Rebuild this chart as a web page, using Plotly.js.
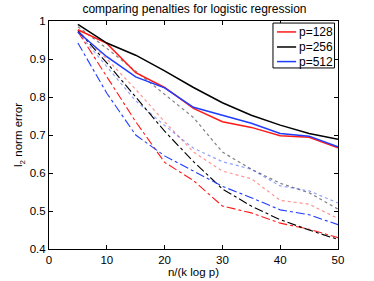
<!DOCTYPE html>
<html><head><meta charset="utf-8">
<script src="https://cdn.plot.ly/plotly-3.0.1.min.js"></script>
<style>html,body{margin:0;padding:0;background:#fff}#c{width:374px;height:281px}</style>
</head><body><div id="c"></div>
<script>
const ratio = [5, 10, 15, 20, 25, 30, 35, 40, 45, 50];
const seriesNames = ["p=128", "p=256", "p=512"];
// solid lines
const solid128 = [0.977, 0.941, 0.864, 0.825, 0.770, 0.735, 0.720, 0.698, 0.694, 0.666];
const solid256 = [0.991, 0.942, 0.910, 0.869, 0.825, 0.785, 0.752, 0.726, 0.704, 0.689];
const solid512 = [0.971, 0.906, 0.853, 0.824, 0.773, 0.752, 0.731, 0.704, 0.697, 0.669];
// dash-dot lines
const dashdot128 = [0.972, 0.855, 0.735, 0.628, 0.580, 0.513, 0.495, 0.468, 0.452, 0.430];
const dashdot256 = [0.975, 0.890, 0.800, 0.710, 0.630, 0.558, 0.513, 0.477, 0.450, 0.425];
const dashdot512 = [0.942, 0.810, 0.700, 0.645, 0.605, 0.565, 0.535, 0.503, 0.490, 0.464];
// dotted lines
const dotted128 = [0.975, 0.900, 0.820, 0.735, 0.655, 0.605, 0.585, 0.528, 0.518, 0.480];
const dotted256 = [0.985, 0.928, 0.868, 0.807, 0.746, 0.655, 0.610, 0.573, 0.548, 0.505];
const dotted512 = [0.970, 0.880, 0.790, 0.725, 0.665, 0.630, 0.610, 0.566, 0.553, 0.521];

const cols = ["#ff1a1a", "#000000", "#1f3cff"];
const dotCols = ["rgba(255,60,60,0.55)", "rgba(0,0,0,0.5)", "rgba(40,70,255,0.5)"];
const solids = [solid128, solid256, solid512];
const dashdots = [dashdot128, dashdot256, dashdot512];
const dotteds = [dotted128, dotted256, dotted512];

const traces = [];
for (let i = 0; i < 3; i++) {
  traces.push({x: ratio, y: dotteds[i], mode: "lines", showlegend: false,
    line: {color: dotCols[i], width: 1.2, dash: "dot"}});
}
for (let i = 0; i < 3; i++) {
  traces.push({x: ratio, y: dashdots[i], mode: "lines", showlegend: false,
    line: {color: cols[i], width: 1.1, dash: "dashdot"}});
}
for (let i = 0; i < 3; i++) {
  traces.push({x: ratio, y: solids[i], mode: "lines", name: seriesNames[i], showlegend: false,
    line: {color: cols[i], width: 1.5}});
}

const font = "Liberation Sans, Arial, sans-serif";

// legend drawn in paper coordinates
const legendRows = [0.952, 0.886, 0.822];
const shapes = [{type: "rect", xref: "paper", yref: "paper", x0: 0.775, x1: 0.988, y0: 0.794, y1: 0.991,
  line: {color: "#000", width: 1}, fillcolor: "#fff", layer: "above"}];
const annotations = [];
for (let i = 0; i < 3; i++) {
  shapes.push({type: "line", xref: "paper", yref: "paper", x0: 0.789, x1: 0.855, y0: legendRows[i], y1: legendRows[i],
    line: {color: cols[i], width: 1.5}, layer: "above"});
  annotations.push({xref: "paper", yref: "paper", x: 0.858, y: legendRows[i], xanchor: "left", yanchor: "middle",
    text: seriesNames[i], showarrow: false, font: {size: 12, family: font, color: "#000"}});
}

const layout = {
  width: 374, height: 281,
  margin: {l: 49, r: 36, t: 21, b: 32},
  paper_bgcolor: "#fff", plot_bgcolor: "#fff",
  font: {family: font, size: 11.5, color: "#000"},
  title: {text: "comparing penalties for logistic regression", font: {size: 12, family: font}, x: 0.52, xanchor: "center", y: 0.985, yanchor: "top"},
  xaxis: {range: [0, 50], tickvals: [0, 10, 20, 30, 40, 50], ticks: "inside", ticklen: 4, tickcolor: "#000",
    showgrid: false, zeroline: false, showline: true, linecolor: "#000", linewidth: 1, mirror: "ticks",
    title: {text: "n/(k log p)", font: {size: 11.5}, standoff: 1}, tickfont: {size: 11.5}},
  yaxis: {range: [0.4, 1], tickvals: [0.4, 0.5, 0.6, 0.7, 0.8, 0.9, 1], ticktext: ["0.4","0.5","0.6","0.7","0.8","0.9","1"],
    ticks: "inside", ticklen: 4, tickcolor: "#000",
    showgrid: false, zeroline: false, showline: true, linecolor: "#000", linewidth: 1, mirror: "ticks",
    title: {text: "l<sub>2</sub> norm error", font: {size: 11.5}, standoff: 4}, tickfont: {size: 11.5}},
  shapes: shapes,
  annotations: annotations,
  showlegend: false
};
Plotly.newPlot("c", traces, layout, {displayModeBar: false, staticPlot: true});
</script></body></html>
